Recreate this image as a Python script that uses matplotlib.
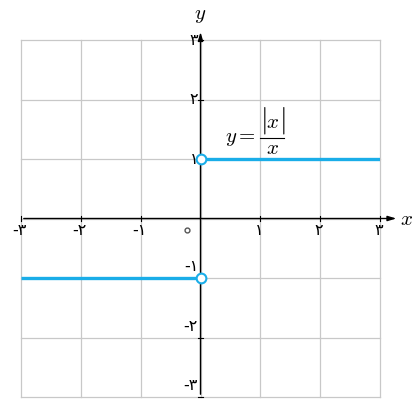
import matplotlib.pyplot as plt

plt.rcParams['mathtext.fontset'] = 'cm'
plt.rcParams['font.family'] = ['DejaVu Sans']

# data
x_right = [0, 3]
y_right = [1, 1]
x_left = [-3, 0]
y_left = [-1, -1]
open_x = [0, 0]
open_y = [1, -1]

ticks = [-3, -2, -1, 1, 2, 3]
tick_labels = {-3: '-۳', -2: '-۲', -1: '-۱', 1: '۱', 2: '۲', 3: '۳'}

blue = '#1AADE8'

fig = plt.figure(figsize=(4.19, 4.0), dpi=100)
ax = fig.add_axes([21/419, 3/400, 359/419, 357/400])
ax.set_xlim(-3, 3)
ax.set_ylim(-3, 3)
for s in ax.spines.values():
    s.set_visible(False)
ax.set_xticks([])
ax.set_yticks([])

# grid
for g in range(-3, 4):
    ax.plot([g, g], [-3, 3], color='#c8c8c8', lw=0.9, zorder=1, clip_on=False)
    ax.plot([-3, 3], [g, g], color='#c8c8c8', lw=0.9, zorder=1, clip_on=False)

# axes with arrows
ax.annotate('', xy=(3.32, 0), xytext=(-3, 0),
            arrowprops=dict(arrowstyle='-|>,head_length=0.5,head_width=0.15', color='black', lw=1.0),
            annotation_clip=False, zorder=3)
ax.annotate('', xy=(0, 3.18), xytext=(0, -3),
            arrowprops=dict(arrowstyle='-|>,head_length=0.5,head_width=0.15', color='black', lw=1.0),
            annotation_clip=False, zorder=3)
ax.text(3.45, 0, '$x$', fontsize=15, ha='center', va='center', clip_on=False)
ax.text(0, 3.42, '$y$', fontsize=15, ha='center', va='center', clip_on=False)

# ticks
for t in ticks:
    ax.plot([t, t], [-0.04, 0.04], color='black', lw=0.8, zorder=3, clip_on=False)
    ax.plot([-0.04, 0.04], [t, t], color='black', lw=0.8, zorder=3, clip_on=False)
    ax.text(t - 0.02, -0.07, tick_labels[t], fontsize=11.5, ha='center', va='top')
    if t > 0:
        ax.text(-0.04, t, tick_labels[t], fontsize=11.5, ha='right', va='center')
    else:
        ax.text(-0.04, t + 0.06, tick_labels[t], fontsize=11.5, ha='right', va='bottom')
ax.plot([-0.23], [-0.2], 'o', mfc='white', mec='#555555', mew=1.0, ms=3.5, zorder=3)

# function
ax.plot(x_right, y_right, color=blue, lw=2.4, zorder=4, solid_capstyle='butt')
ax.plot(x_left, y_left, color=blue, lw=2.4, zorder=4, solid_capstyle='butt')
ax.plot(open_x, open_y, 'o', mfc='white', mec=blue, mew=1.5, ms=7, zorder=5)

# label y = |x| / x, built by hand so the bars come out tall
ax.text(0.93, 1.36, '$y=$', fontsize=15, ha='right', va='center')
ax.plot([1.0, 1.39], [1.36, 1.36], color='black', lw=0.8)
ax.text(1.2, 1.63, '$x$', fontsize=15, ha='center', va='center')
ax.text(1.04, 1.65, '$|$', fontsize=20, ha='center', va='center')
ax.text(1.36, 1.65, '$|$', fontsize=20, ha='center', va='center')
ax.text(1.2, 1.18, '$x$', fontsize=15, ha='center', va='center')

fig.savefig('out.png', dpi=100)
